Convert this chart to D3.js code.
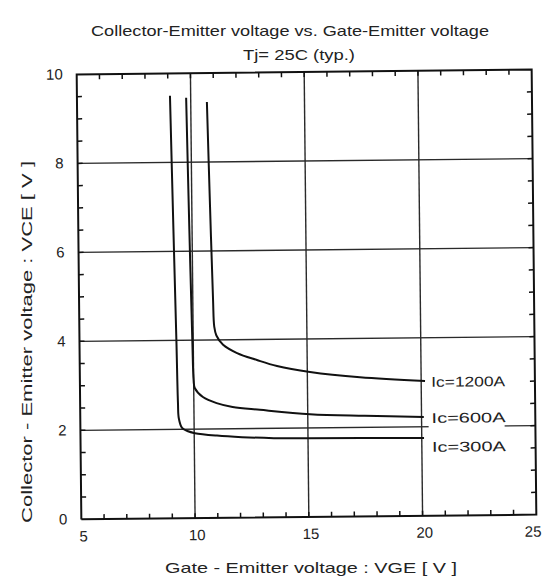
<!DOCTYPE html>
<html>
<head>
<meta charset="utf-8">
<script src="https://cdn.jsdelivr.net/npm/d3@7"></script>
<style>
  body { margin: 0; background: #fff; }
  text { font-family: "Liberation Sans", Arial, sans-serif; fill: #222; }
</style>
</head>
<body>
<svg id="chart"></svg>
<script>
var vgeTicks = [5, 10, 15, 20, 25];
var vceTicks = [0, 2, 4, 6, 8, 10];

// [VGE, VCE]
var ic300 = [[9.09, 9.5], [9.18, 6.5], [9.26, 4.0], [9.3, 2.6], [9.33, 2.25], [9.47, 2.03], [9.7, 1.96],
             [10.03, 1.91], [11.0, 1.85], [12.1, 1.81], [13.5, 1.78], [15.0, 1.77], [20.1, 1.75]];
var ic600 = [[9.8, 9.45], [9.88, 6.5], [9.96, 4.0], [10.0, 3.1], [10.05, 2.92], [10.4, 2.72],
             [11.0, 2.58], [11.7, 2.49], [12.9, 2.42], [15.1, 2.31], [17.5, 2.26], [20.1, 2.22]];
var ic1200 = [[10.71, 9.35], [10.8, 7.0], [10.89, 4.9], [10.93, 4.3], [11.02, 4.1], [11.31, 3.89],
              [11.92, 3.7], [12.79, 3.54], [13.67, 3.4], [15.12, 3.26], [17.31, 3.13], [20.17, 3.03]];
var curveLabels = ["Ic=1200A", "Ic=600A", "Ic=300A"];

var svg = d3.select("#chart")
    .attr("width", 543)
    .attr("height", 577);

// the scan is slightly tilted
var g = svg.append("g").attr("transform", "rotate(-0.6,306,294)");

var xScale = d3.scaleLinear().domain([5, 25]).range([79, 534]);
var yScale = d3.scaleLinear().domain([0, 10]).range([517, 72]);

var lineGen = d3.line()
    .x(function (d) { return xScale(d[0]); })
    .y(function (d) { return yScale(d[1]); });

// grid
g.selectAll("line.vgrid")
    .data(vgeTicks.slice(1, -1))
    .enter().append("line")
    .attr("class", "vgrid")
    .attr("x1", function (d) { return xScale(d); })
    .attr("x2", function (d) { return xScale(d); })
    .attr("y1", yScale(10))
    .attr("y2", yScale(0))
    .attr("stroke", "#2a2a2a")
    .attr("stroke-width", 1.4);

g.selectAll("line.hgrid")
    .data(vceTicks.slice(1, -1))
    .enter().append("line")
    .attr("class", "hgrid")
    .attr("x1", xScale(5))
    .attr("x2", xScale(25))
    .attr("y1", function (d) { return yScale(d); })
    .attr("y2", function (d) { return yScale(d); })
    .attr("stroke", "#2a2a2a")
    .attr("stroke-width", 1.4);

// white patch behind curve labels (gridline at 2 V is broken there)
g.append("rect")
    .attr("x", xScale(20) + 7)
    .attr("y", yScale(3.03) - 12)
    .attr("width", 76)
    .attr("height", 80)
    .attr("fill", "#fff");

// frame
var frame = [[5, 0], [25, 0], [25, 10], [5, 10], [5, 0]];
g.append("path")
    .attr("d", lineGen(frame))
    .attr("fill", "none")
    .attr("stroke", "#111")
    .attr("stroke-width", 2);

// inward minor ticks
var xMinor = d3.range(6, 25, 1);
var yMinor = d3.range(0.5, 10, 0.5);
var tl = 5;
var tickPath = "";
xMinor.forEach(function (v) {
    tickPath += "M" + xScale(v) + "," + yScale(0) + "v" + (-tl);
    tickPath += "M" + xScale(v) + "," + yScale(10) + "v" + tl;
});
yMinor.forEach(function (v) {
    tickPath += "M" + xScale(5) + "," + yScale(v) + "h" + tl;
    tickPath += "M" + xScale(25) + "," + yScale(v) + "h" + (-tl);
});
g.append("path")
    .attr("d", tickPath)
    .attr("fill", "none")
    .attr("stroke", "#111")
    .attr("stroke-width", 1.5);

// tick labels
g.selectAll("text.xl")
    .data(vgeTicks)
    .enter().append("text")
    .attr("class", "xl")
    .attr("x", function (d, i) { return i == vgeTicks.length - 1 ? xScale(d) + 5 : xScale(d) + 2; })
    .attr("y", yScale(0) + 22)
    .attr("text-anchor", function (d, i) { return i == vgeTicks.length - 1 ? "end" : "middle"; })
    .attr("font-size", 15)
    .text(function (d) { return d; });

g.selectAll("text.yl")
    .data(vceTicks)
    .enter().append("text")
    .attr("class", "yl")
    .attr("x", xScale(5) - 14)
    .attr("y", function (d) { return yScale(d) + 5; })
    .attr("text-anchor", "end")
    .attr("font-size", 15)
    .text(function (d) { return d; });

// curves
var curveGen = d3.line()
    .x(function (d) { return xScale(d[0]); })
    .y(function (d) { return yScale(d[1]); })
    .curve(d3.curveCatmullRom.alpha(0.5));

var series = [ic1200, ic600, ic300];

g.selectAll("path.curve")
    .data(series)
    .enter().append("path")
    .attr("class", "curve")
    .attr("d", curveGen)
    .attr("fill", "none")
    .attr("stroke", "#111")
    .attr("stroke-width", 2);

g.selectAll("text.clab")
    .data(series)
    .enter().append("text")
    .attr("class", "clab")
    .attr("x", xScale(20) + 10)
    .attr("y", function (d, i) { return yScale(d[d.length - 1][1]) + 6 + (i == 2 ? 8 : 0); })
    .attr("font-size", 14)
    .attr("textLength", 74)
    .attr("lengthAdjust", "spacingAndGlyphs")
    .text(function (d, i) { return curveLabels[i]; });

// titles
svg.append("text")
    .attr("x", 290)
    .attr("y", 36)
    .attr("text-anchor", "middle")
    .attr("font-size", 15)
    .attr("textLength", 398)
    .attr("lengthAdjust", "spacingAndGlyphs")
    .text("Collector-Emitter voltage  vs. Gate-Emitter voltage");

svg.append("text")
    .attr("x", 299)
    .attr("y", 60)
    .attr("text-anchor", "middle")
    .attr("font-size", 15)
    .attr("textLength", 112)
    .attr("lengthAdjust", "spacingAndGlyphs")
    .text("Tj= 25C  (typ.)");

svg.append("text")
    .attr("x", 311)
    .attr("y", 573)
    .attr("text-anchor", "middle")
    .attr("font-size", 15)
    .attr("textLength", 292)
    .attr("lengthAdjust", "spacingAndGlyphs")
    .text("Gate - Emitter voltage  :  VGE  [ V ]");

svg.append("text")
    .attr("transform", "translate(32,342) rotate(-90)")
    .attr("text-anchor", "middle")
    .attr("font-size", 14)
    .attr("textLength", 362)
    .attr("lengthAdjust", "spacingAndGlyphs")
    .text("Collector - Emitter voltage  :  VCE  [ V ]");
</script>
</body>
</html>
